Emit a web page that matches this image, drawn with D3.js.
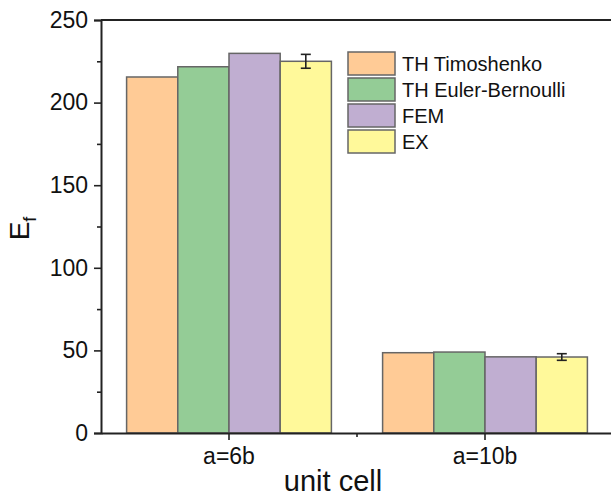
<!DOCTYPE html>
<html>
<head>
<meta charset="utf-8">
<script src="https://cdn.jsdelivr.net/npm/d3@7"></script>
<style>
  body { margin: 0; background: #fff; }
  text { font-family: Arial, "Liberation Sans", sans-serif; fill: #111; }
</style>
</head>
<body>
<div id="chart"></div>
<script>
// data
var categories = ["a=6b", "a=10b"];
var series = ["TH Timoshenko", "TH Euler-Bernoulli", "FEM", "EX"];
var colors = ["#ffcb96", "#94cc96", "#c0aed1", "#fff99a"];
var timoshenko = [215.5, 48.6];
var eulerBernoulli = [221.7, 49.0];
var fem = [229.8, 46.1];
var ex = [225.0, 46.0];
var exError = [4.2, 2.0];
var yTicks = [0, 50, 100, 150, 200, 250];

var values = [timoshenko, eulerBernoulli, fem, ex];

var W = 611, H = 498;
var margin = {top: 20, right: -2, bottom: 65, left: 101},
    width = W - margin.left - margin.right,
    height = H - margin.top - margin.bottom;

var svg = d3.select("#chart")
  .append("svg")
    .attr("width", W)
    .attr("height", H)
  .append("g")
    .attr("transform", "translate(" + margin.left + "," + margin.top + ")");

var x = d3.scaleBand()
  .domain(categories)
  .range([0, width])
  .paddingInner(0.2)
  .paddingOuter(0.1);

var xs = d3.scaleBand()
  .domain(series)
  .range([0, x.bandwidth()]);

var y = d3.scaleLinear()
  .domain([0, 250])
  .range([height, 0]);

// bars
var rows = [];
categories.forEach(function(c, i) {
  series.forEach(function(s, j) {
    rows.push({cat: c, ser: s, j: j, v: values[j][i], err: j === 3 ? exError[i] : null});
  });
});

svg.selectAll("rect.bar")
  .data(rows)
  .enter()
  .append("rect")
    .attr("class", "bar")
    .attr("x", function(d) { return x(d.cat) + xs(d.ser); })
    .attr("width", xs.bandwidth())
    .attr("y", function(d) { return y(d.v); })
    .attr("height", function(d) { return y(0) - y(d.v); })
    .attr("fill", function(d) { return colors[d.j]; })
    .attr("stroke", "#666")
    .attr("stroke-width", 1.5);

// error bars on EX
var errs = svg.selectAll("g.err")
  .data(rows.filter(function(d) { return d.err !== null; }))
  .enter()
  .append("g")
    .attr("class", "err")
    .attr("stroke", "#222")
    .attr("stroke-width", 1.6);
errs.append("line")
  .attr("x1", function(d) { return x(d.cat) + xs(d.ser) + xs.bandwidth() / 2; })
  .attr("x2", function(d) { return x(d.cat) + xs(d.ser) + xs.bandwidth() / 2; })
  .attr("y1", function(d) { return y(d.v + d.err); })
  .attr("y2", function(d) { return y(d.v - d.err); });
[1, -1].forEach(function(sgn) {
  errs.append("line")
    .attr("x1", function(d) { return x(d.cat) + xs(d.ser) + xs.bandwidth() / 2 - 5; })
    .attr("x2", function(d) { return x(d.cat) + xs(d.ser) + xs.bandwidth() / 2 + 5; })
    .attr("y1", function(d) { return y(d.v + sgn * d.err); })
    .attr("y2", function(d) { return y(d.v + sgn * d.err); });
});

// Y axis with minor ticks
var minor = d3.range(25, 250, 50);
svg.append("g")
  .call(d3.axisLeft(y).tickValues(minor).tickSize(4).tickFormat(""))
  .call(function(g) { g.select(".domain").remove(); })
  .selectAll("line").attr("stroke", "#222").attr("stroke-width", 1.6);

var yAxis = svg.append("g")
  .call(d3.axisLeft(y).tickValues(yTicks).tickSize(7).tickPadding(6));
yAxis.select(".domain").attr("stroke", "#222").attr("stroke-width", 2);
yAxis.selectAll("line").attr("stroke", "#222").attr("stroke-width", 1.6);
yAxis.selectAll("text")
  .style("font-size", "23px")
  .style("font-family", "Arial, 'Liberation Sans', sans-serif")
  .attr("fill", "#111");

// top frame line
svg.append("line")
  .attr("x1", 0).attr("x2", width)
  .attr("y1", 0).attr("y2", 0)
  .attr("stroke", "#222").attr("stroke-width", 2);

// X axis: major ticks at category centres, minor between
var xAxis = svg.append("g")
  .attr("transform", "translate(0," + height + ")")
  .call(d3.axisBottom(x).tickSize(7).tickSizeOuter(0).tickPadding(8));
xAxis.select(".domain").attr("stroke", "#222").attr("stroke-width", 2);
xAxis.selectAll("line").attr("stroke", "#222").attr("stroke-width", 1.6);
xAxis.selectAll("text")
  .style("font-size", "23px")
  .style("font-family", "Arial, 'Liberation Sans', sans-serif")
  .attr("fill", "#111");

var mid = (x(categories[0]) + x.bandwidth() + x(categories[1])) / 2;
svg.append("line")
  .attr("x1", mid).attr("x2", mid)
  .attr("y1", height).attr("y2", height + 4)
  .attr("stroke", "#222").attr("stroke-width", 1.6);

// axis titles
svg.append("text")
  .attr("x", 232)
  .attr("y", height + 58)
  .attr("text-anchor", "middle")
  .style("font-size", "29px")
  .text("unit cell");

var yl = svg.append("text")
  .attr("transform", "translate(" + (-72) + "," + (y(125) + 2) + ")rotate(-90)")
  .attr("text-anchor", "middle")
  .style("font-size", "28px");
yl.append("tspan").text("E");
yl.append("tspan").attr("dy", 7).style("font-size", "18px").text("f");

// legend
var legend = svg.selectAll("g.legend")
  .data(series)
  .enter()
  .append("g")
    .attr("class", "legend")
    .attr("transform", function(d, i) { return "translate(" + 247 + "," + (32 + i * 26) + ")"; });
legend.append("rect")
  .attr("width", 47)
  .attr("height", 23)
  .attr("fill", function(d, i) { return colors[i]; })
  .attr("stroke", "#666")
  .attr("stroke-width", 1.5);
legend.append("text")
  .attr("x", 54)
  .attr("y", 19)
  .style("font-size", "20px")
  .text(function(d) { return d; });
</script>
</body>
</html>
